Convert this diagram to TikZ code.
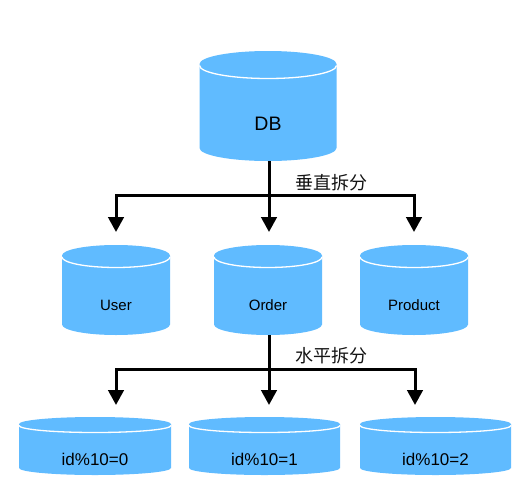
\documentclass[tikz,border=0pt]{standalone}
\usepackage{fontspec}
\setmainfont{Liberation Sans}
\newfontfamily\cjkfont{Noto Sans CJK SC}
\usetikzlibrary{arrows.meta}
\definecolor{dbblue}{RGB}{96,187,255}
\definecolor{inkdark}{RGB}{20,20,20}
\tikzset{
  x=1pt,y=-1pt,
  conn/.style={draw=black,line width=3pt},
  connarrow/.style={conn,-{Triangle[width=15.5pt,length=15pt]}},
  cn/.style={font=\cjkfont\fontsize{18}{20}\selectfont,text=inkdark,inner sep=0pt},
}
% name, center x, top, bottom, half width, ry, label y, label size, label
\newcommand{\dbcyl}[9]{%
  \fill[dbblue] (#2-#5,#3+#6) -- (#2-#5,#4-#6)
     arc[x radius=#5,y radius=-#6,start angle=180,end angle=360]
     -- (#2+#5,#3+#6) arc[x radius=#5,y radius=-#6,start angle=0,end angle=180] -- cycle;
  \draw[white,line width=1.3pt] (#2-#5,#3+#6+1.5)
     arc[x radius=#5,y radius=-#6,start angle=180,end angle=360];
  \coordinate (#1-top) at (#2,#3);
  \coordinate (#1-bottom) at (#2,#4);
  \node[inner sep=0pt,font=\fontsize{#8}{#8}\selectfont,text=black] (#1) at (#2,#7) {#9};
}
\begin{document}
\begin{tikzpicture}
\useasboundingbox (0,0) rectangle (522,493);
\fill[white] (0,0) rectangle (522,493);
% cylinders
\dbcyl{db}{268}{51}{161}{68.5}{13}{123.5}{19.5}{DB}
\dbcyl{user}{116}{245}{335}{54}{10.5}{305.5}{15}{User}
\dbcyl{order}{268}{245}{335}{54}{10.5}{305.5}{15}{Order}
\dbcyl{product}{414}{245}{335}{54}{10.5}{305.5}{15}{Product}
\dbcyl{shard0}{95}{417}{475}{76}{7}{459}{17}{id\%10=0}
\dbcyl{shard1}{264.5}{417}{475}{75.5}{7}{459}{17}{id\%10=1}
\dbcyl{shard2}{435.5}{417}{475}{75.5}{7}{459}{17}{id\%10=2}
% junctions
\coordinate (j1) at (269,195);
\coordinate (j1l) at (116,195);
\coordinate (j1r) at (414,195);
\coordinate (j2) at (269,369);
\coordinate (j2l) at (116,369);
\coordinate (j2r) at (415,369);
% connectors
\draw[conn] (j1 |- db-bottom) -- (j1);
\draw[connarrow,shorten >=13pt] (j1) -- (j1 |- order-top);
\draw[connarrow,shorten >=13pt] (j1l) -- (j1l |- user-top);
\draw[connarrow,shorten >=13pt] (j1r) -- (j1r |- product-top);
\draw[conn,line cap=rect] (j1l) -- (j1r);
\draw[conn] (j2 |- order-bottom) -- (j2);
\draw[connarrow,shorten >=12pt] (j2) -- (j2 |- shard1-top);
\draw[connarrow,shorten >=12pt] (j2l) -- (j2l |- shard0-top);
\draw[connarrow,shorten >=12pt] (j2r) -- (j2r |- shard2-top);
\draw[conn,line cap=rect] (j2l) -- (j2r);
% labels
\node[cn] (vsplit) at (331.5,183) {垂直拆分};
\node[cn] (hsplit) at (331,356) {水平拆分};
\end{tikzpicture}
\end{document}
